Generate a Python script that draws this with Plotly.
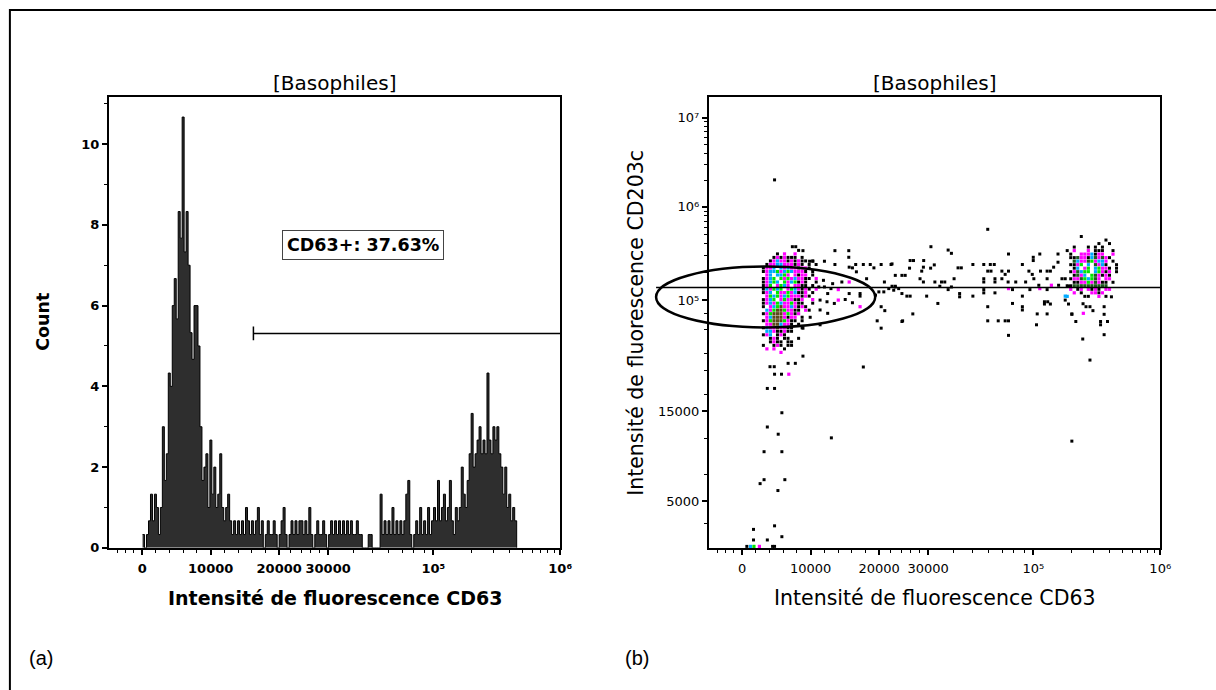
import math
import plotly.graph_objects as go

W, H = 1216, 690

# ------------------------------------------------------------------ data
# Histogram of CD63 (counts per display channel, channel bins of width 2)
HIST_FIRST_CHANNEL = 34
HIST_BIN_WIDTH = 2
HIST_COUNTS = [
    0.33, 0, 0.33, 0.67, 1.33, 0.67, 1.33, 1.0, 0.33, 1.0,
    3.0, 1.67, 2.33, 4.33, 4.0, 6.0, 6.67, 5.67, 8.33, 7.67,
    10.67, 7.33, 8.33, 7.0, 5.33, 4.67, 6.0, 6.0, 5.0, 3.0,
    1.67, 2.0, 2.33, 1.0, 2.67, 1.33, 2.0, 1.0, 1.33, 2.33,
    1.0, 0.67, 1.0, 1.33, 0.67, 0.33, 0.67, 0.33, 0.67, 0.33,
    0.67, 0.33, 1.0, 0.67, 0.33, 0.67, 0.33, 0.67, 1.0, 0.33,
    0.67, 0, 0.33, 0.67, 0.33, 0.33, 0.67, 0.33, 0, 0.33,
    0.67, 1.0, 0.33, 0, 0.33, 0.67, 0.33, 0.67, 0.33, 0.67,
    0.67, 0.33, 0.67, 0.33, 1.0, 0.33, 0, 0.33, 0.67, 0.33,
    0.33, 0.67, 0.33, 0, 0.33, 0.67, 0.33, 0.67, 0.33, 0.67,
    0.33, 0.67, 0.33, 0.67, 0.33, 0.67, 0.33, 0.33, 0.67, 0.33,
    0.33, 0, 0, 0, 0.33, 0.33, 0, 0, 0, 0,
    1.33, 0.33, 0.67, 0.33, 0.67, 0.33, 1.0, 0.33, 0.67, 0.33,
    0.67, 0.33, 0.67, 1.33, 1.67, 0.33, 0, 0.33, 0.67, 0.33,
    1.0, 0.33, 0.67, 0.33, 1.0, 0.33, 0.67, 1.0, 0.67, 1.67,
    0.67, 1.0, 1.33, 0.67, 1.0, 1.67, 0.67, 0.33, 1.0, 0.67,
    1.0, 2.0, 1.33, 1.0, 1.67, 2.33, 3.33, 2.0, 2.33, 2.67,
    3.0, 2.33, 2.67, 2.33, 4.33, 2.67, 2.33, 3.0, 2.67, 3.0,
    2.33, 2.0, 1.33, 2.0, 1.0, 1.33, 0.67, 1.0, 0.67,
]

# Dot plot events (CD63 channel, CD203c channel) - isolated black events
BLACK_EVENTS = [
    (66.3, 372.3), (84.3, 304.7), (87.7, 304.7), (95, 300.7), (127.3, 300.7),
    (141.3, 300.7), (141.3, 294), (116.7, 290), (101.7, 290), (105, 290),
    (127.3, 286.7), (148.3, 286.7), (156, 286.7), (163, 286.7), (174, 286.7),
    (184, 286.7), (108.3, 286.7), (145, 283.3), (166.7, 283.3), (149, 279.3),
    (159.3, 272.3), (115.7, 270.7), (134.3, 269), (125, 267.3), (177.3, 269),
    (181.7, 262.3), (176.7, 259), (111, 264), (116.7, 264), (123.3, 262.3),
    (120, 257.3), (112.3, 250.7), (119.3, 249), (137.7, 251.3), (145, 248),
    (126.7, 247.3), (141.7, 257.3), (152.7, 257.3), (152.7, 254.7), (174, 244),
    (177.7, 240), (170, 229.7), (174, 222.3), (120, 237.3), (112.3, 240.7),
    (112.3, 225.7), (102.3, 233.3), (95, 222.3), (156, 183), (123.7, 111.3),
    (141.7, 284), (188.3, 264), (186.7, 260.7), (171.7, 259), (168.3, 255.7),
    (195, 229),
    # lower streak of the first population
    (95, 194), (80, 186.7), (87.3, 186.7), (61.7, 183.3), (66, 183.3),
    (66.3, 175.7), (73.3, 175.7), (59, 161.3), (66.3, 161.3), (73.7, 136.7),
    (59, 122.3), (70, 115), (55.7, 97.3), (73.7, 97.3), (55.7, 69),
    (51.7, 65), (76.7, 69), (69.7, 58), (66.3, 22.3), (45, 18.7),
    (73.7, 11.3), (45, 8), (59, 8), (38.3, 1.5), (64.3, 1.5), (66.3, 1.5),
    # intermediate band
    (281.7, 322.3), (224.3, 304.7), (241.7, 301.3), (245, 298), (302.7, 297.3),
    (334.3, 297.3), (352.7, 297.3), (327.7, 294), (327.7, 290.7), (203.3, 290.7),
    (206.7, 290.7), (217, 290.7), (227.7, 286.3), (224, 283), (202.7, 283),
    (255, 283.3), (251.7, 283.3), (266.7, 286.7), (277.7, 286.7), (284.3, 286.7),
    (288.3, 286.7), (316.7, 286.7), (281.7, 280), (285, 280), (296, 280),
    (299.3, 276.7), (302.7, 280), (323.3, 280), (326.7, 276.7), (335, 280),
    (341.7, 280), (345, 280), (348.3, 284), (352.7, 289), (356.7, 272.3),
    (360, 272.3), (188.3, 275.7), (185, 287.3), (195, 275.7), (198.3, 275.7),
    (215, 280), (216.7, 284), (213.3, 272.3), (216.7, 269), (228.3, 269),
    (235, 269), (238.3, 269), (247.7, 272.3), (233.3, 264.7), (241.7, 261.3),
    (245, 264), (277.7, 272.3), (277.7, 269), (289, 272.3), (289, 269),
    (296, 272.3), (302.3, 269), (310, 269), (320, 269), (328.3, 272.3),
    (341.7, 272.3), (333.3, 265.7), (353.3, 265.7), (363.3, 264.7), (185, 264.7),
    (188.3, 264.7), (191.7, 262.3), (195, 257.3), (200, 254.7), (203.3, 254.7),
    (220, 254.7), (253.3, 257.3), (253.3, 254), (266.7, 254.7), (277.7, 261.3),
    (277.7, 258), (289, 258), (306.7, 261.3), (316.7, 254.7), (324.3, 261.3),
    (341.7, 261.3), (339, 249), (342.3, 249), (339, 246.7), (345, 246.7),
    (360, 250.7), (363.3, 246.7), (316.7, 244), (316.7, 240.7), (306.7, 247.3),
    (231.3, 247.3), (331.7, 236.7), (341.7, 236.7), (366.7, 236.7), (206, 236.7),
    (195.7, 229.7), (281.7, 244), (281.7, 229.7), (292.3, 229.7), (299.3, 229.7),
    (302.7, 229.7), (331, 225.7), (302.7, 215), (366.7, 108),
    # around the CD63+ population
    (406.7, 254), (399.3, 244), (399.3, 236.3), (395.7, 229), (395.7, 225.7),
    (402.7, 229), (370.7, 229), (399.3, 215.7), (377.7, 211.3), (385, 190),
    (366.7, 236.3), (378, 247), (381, 244), (385, 244), (388, 240),
]
MAGENTA_EVENTS = [
    (130.7, 261.3), (141.7, 269), (130.7, 250.7), (152.7, 244), (80.7, 175.7),
    (302.7, 262.3), (334.3, 262.3), (346, 265.7), (378.3, 237.3), (51, 1.5),
]
CYAN_EVENTS = [(360, 254.7), (42, 1.5)]
GREEN_EVENTS = [(45.5, 1.5)]

# Density-coloured cells of the two dense populations (one char = one cell)
# k black, m magenta, c cyan, g green, w white, o olive, d dark green
CLUSTER_NEG_ORIGIN = (55.0, 301.0)   # CD63- basophils (channel of first cell)
CLUSTER_NEG = [
    "..........k.....",
    "....k.m..m......",
    "...kmkmkkk.k....",
    "..kmcmmkmkmkk.k.",
    ".kmmccmmmkmk.k..",
    "kmmcwcmcmmkmmk..",
    "kmccgmcgcmmmk.k.",
    ".mcwccgmwmkmm.k.",
    "kmcgwgmgmcmmkk.m",
    "kmcgcwgmcgkmk..k",
    "kmgwmgcmwmmkk.k.",
    "kcmgcgwmgcmkmk.m",
    "kmcwgmmgmckkm.k.",
    ".mgcgmcgmmmkmk..",
    "kmcgwmgmmkkm..m.",
    "kmcmgcmmgmkk..k.",
    "kwmcgommcmkmk...",
    ".cmgoogmmkk.mk..",
    "kmgooomgmkm.....",
    ".mcooomkmm.k....",
    "kmgooogmkk.k....",
    ".mmoocmmk.k.....",
    "kcmmommkk..k....",
    ".ccmkkmkk.......",
    "kmc.kmk.........",
    "..kmk.kk..k.....",
    "..kmkk.kk.......",
    "k..kmk.kk.......",
    ".m.m..k.........",
    ".....m..........",
]
CLUSTER_POS_ORIGIN = (362.0, 315.0)  # CD63+ basophils
CLUSTER_POS = [
    "....k..........",
    "...........k...",
    ".........k..k..",
    "..k...k.k.k....",
    "k.m...m.kkk..k.",
    ".k..mmmckmm..m.",
    ".kkdmmkcdmdmk..",
    "..dcmmdgmccm.k.",
    ".kkmgwcwdmck..k",
    "..kcwmgwcgmmk.k",
    ".kmdcggwcgmkm.k",
    "..kdmcwgdmkmk..",
    ".kmmdgcgdm.mm..",
    "..kkmmgmdmkk.k.",
    "kkdddddddddd...",
    ".m.km.mkmk.mm..",
    "..m.k..mmkm....",
    "c....kk..m.k...",
]
CELL = 3.56

# ------------------------------------------------------------------ scales
# biexponential display: intensity -> display channel (anchors of the scale)
X_SCALE_VALUES = [0, 10000, 20000, 30000, 1e5, 1e6]
X_SCALE_CH = [33.6, 102.8, 172.0, 221.5, 327.8, 456.0]
X_TICK_TEXT = ["0", "10000", "20000", "30000", "10\u2075", "10\u2076"]
X_MINOR_VALUES = [-3600, -2400, -1200, 2000, 4000, 6000, 8000, 12000, 14000,
                  16000, 18000, 22000, 24000, 26000, 28000, 40000, 50000,
                  60000, 70000, 80000, 90000, 2e5, 3e5, 4e5, 5e5, 6e5, 7e5,
                  8e5, 9e5]
Y_SCALE_VALUES = [5000, 15000, 1e5, 1e6, 1e7]
Y_SCALE_CH = [47.3, 138.3, 250.7, 345.0, 435.0]
Y_TICK_TEXT = ["5000", "15000", "10\u2075", "10\u2076", "10\u2077"]
Y_MINOR_VALUES = [2500, 8000, 12000, 20000, 30000, 40000, 60000, 80000,
                  2e5, 3e5, 4e5, 5e5, 6e5, 7e5, 8e5, 9e5,
                  2e6, 3e6, 4e6, 5e6, 6e6, 7e6, 8e6, 9e6]


def biex(v, vals, chs, n_lin):
    """Piecewise display transform: linear up to vals[n_lin], log above."""
    if v <= vals[n_lin]:
        i = 0
        while i < n_lin - 1 and v > vals[i + 1]:
            i += 1
        return chs[i] + (v - vals[i]) / (vals[i + 1] - vals[i]) * (chs[i + 1] - chs[i])
    i = n_lin
    while i < len(vals) - 2 and v > vals[i + 1]:
        i += 1
    a, b = math.log10(vals[i]), math.log10(vals[i + 1])
    return chs[i] + (math.log10(v) - a) / (b - a) * (chs[i + 1] - chs[i])


x_minor = [biex(v, X_SCALE_VALUES, X_SCALE_CH, 2) for v in X_MINOR_VALUES]
y_minor = [biex(v, Y_SCALE_VALUES, Y_SCALE_CH, 1) for v in Y_MINOR_VALUES]

# ------------------------------------------------------------------ layout geometry
XD1 = [110 / W, 566 / W]
XD2 = [716 / W, 1172 / W]
YD = [1 - 554.3 / H, 1 - 98 / H]
XR = [0, 456.2]
YR1 = [0, 11.17]
YR2 = [0, 456.3]


def pxx(x):
    return x / W


def pxy(y):
    return 1 - y / H


def x2_paper(ch):
    return XD2[0] + (ch - XR[0]) / (XR[1] - XR[0]) * (XD2[1] - XD2[0])


def y2_paper(ch):
    return YD[0] + (ch - YR2[0]) / (YR2[1] - YR2[0]) * (YD[1] - YD[0])


FONT = "DejaVu Sans"

fig = go.Figure()

# ---- histogram (step outline, dark fill)
hx = [HIST_FIRST_CHANNEL + HIST_BIN_WIDTH * i for i in range(len(HIST_COUNTS))]
hx.append(hx[-1] + HIST_BIN_WIDTH)
hy = HIST_COUNTS + [0]
fig.add_trace(go.Scatter(
    x=hx, y=hy, mode="lines", line=dict(color="black", width=1, shape="hv"),
    fill="tozeroy", fillcolor="#2e2e2e", xaxis="x", yaxis="y",
    showlegend=False, hoverinfo="skip"))

# ---- dot plot
COLORS = {"k": "#000000", "m": "#ff00ff", "c": "#00aaff", "g": "#00e600",
          "w": "#ffffff", "o": "#5c4a1c", "d": "#1e5a1e"}
pts = {k: ([], []) for k in COLORS}
for (x, y) in BLACK_EVENTS:
    pts["k"][0].append(x); pts["k"][1].append(y)
for key, lst in (("m", MAGENTA_EVENTS), ("c", CYAN_EVENTS), ("g", GREEN_EVENTS)):
    for (x, y) in lst:
        pts[key][0].append(x); pts[key][1].append(y)
for origin, rows in ((CLUSTER_NEG_ORIGIN, CLUSTER_NEG), (CLUSTER_POS_ORIGIN, CLUSTER_POS)):
    for r, row in enumerate(rows):
        for c, code in enumerate(row):
            if code != ".":
                pts[code][0].append(origin[0] + c * CELL)
                pts[code][1].append(origin[1] - r * CELL)

for key in ["k", "o", "d", "m", "c", "g", "w"]:
    xs, ys = pts[key]
    if not xs:
        continue
    fig.add_trace(go.Scatter(
        x=xs, y=ys, mode="markers", xaxis="x2", yaxis="y2",
        marker=dict(symbol="square", size=3 if key == "k" else 3.2,
                    color=COLORS[key], line=dict(width=0)),
        cliponaxis=False, showlegend=False, hoverinfo="skip"))

# ---- axes
common = dict(showline=True, linecolor="black", linewidth=2, mirror=True,
              ticks="outside", tickcolor="black", ticklen=5, tickwidth=1.5,
              showgrid=False, zeroline=False, fixedrange=True)
bold_tick = dict(family=FONT, size=13, color="black", weight="bold")
reg_tick = dict(family=FONT, size=13, color="black")

fig.update_layout(
    width=W, height=H, margin=dict(l=0, r=0, t=0, b=0),
    paper_bgcolor="white", plot_bgcolor="white", showlegend=False,
    xaxis=dict(domain=XD1, range=XR, anchor="y", tickmode="array",
               tickvals=X_SCALE_CH, ticktext=X_TICK_TEXT, tickfont=bold_tick,
               ticklabelstandoff=3,
               minor=dict(tickvals=x_minor, ticklen=3, tickcolor="black", ticks="outside", tickwidth=1),
               **common),
    yaxis=dict(domain=YD, range=YR1, anchor="x", tickmode="array",
               tickvals=[0, 2, 4, 6, 8, 10], ticktext=["0", "2", "4", "6", "8", "10"],
               tickfont=bold_tick,
               minor=dict(tickvals=[1, 3, 5, 7, 9, 11], ticklen=3, tickcolor="black", ticks="outside", tickwidth=1),
               **common),
    xaxis2=dict(domain=XD2, range=XR, anchor="y2", tickmode="array",
                tickvals=X_SCALE_CH, ticktext=X_TICK_TEXT, tickfont=reg_tick,
                ticklabelstandoff=3,
                minor=dict(tickvals=x_minor, ticklen=3, tickcolor="black", ticks="outside", tickwidth=1),
                **common),
    yaxis2=dict(domain=YD, range=YR2, anchor="x2", tickmode="array",
                tickvals=Y_SCALE_CH, ticktext=Y_TICK_TEXT, tickfont=reg_tick,
                minor=dict(tickvals=y_minor, ticklen=3, tickcolor="black", ticks="outside", tickwidth=1),
                **common),
)

# ---- gates
GATE_HIST = dict(x_start=146, level=5.31, tick_half=0.17)
GATE_ELLIPSE = dict(cx=57.3, cy=253.8, rx=110.7, ry=30.8)
GATE_QUAD_Y = 263.5

shapes = [
    dict(type="line", xref="x", yref="y", x0=GATE_HIST["x_start"], x1=XR[1],
         y0=GATE_HIST["level"], y1=GATE_HIST["level"], line=dict(color="black", width=1.5)),
    dict(type="line", xref="x", yref="y", x0=GATE_HIST["x_start"], x1=GATE_HIST["x_start"],
         y0=GATE_HIST["level"] - GATE_HIST["tick_half"], y1=GATE_HIST["level"] + GATE_HIST["tick_half"],
         line=dict(color="black", width=1.5)),
    dict(type="line", xref="paper", yref="paper",
         x0=x2_paper(GATE_ELLIPSE["cx"] - GATE_ELLIPSE["rx"]), x1=x2_paper(XR[1]),
         y0=y2_paper(GATE_QUAD_Y), y1=y2_paper(GATE_QUAD_Y),
         line=dict(color="black", width=1.5), layer="above"),
    dict(type="circle", xref="paper", yref="paper",
         x0=x2_paper(GATE_ELLIPSE["cx"] - GATE_ELLIPSE["rx"]),
         x1=x2_paper(GATE_ELLIPSE["cx"] + GATE_ELLIPSE["rx"]),
         y0=y2_paper(GATE_ELLIPSE["cy"] - GATE_ELLIPSE["ry"]),
         y1=y2_paper(GATE_ELLIPSE["cy"] + GATE_ELLIPSE["ry"]),
         line=dict(color="black", width=2.5), layer="above"),
    # outer frame of the figure
    dict(type="rect", xref="paper", yref="paper", x0=pxx(10), x1=1.05,
         y0=-0.05, y1=pxy(10), line=dict(color="black", width=2)),
]
fig.update_layout(shapes=shapes)

# ---- texts
def txt(x, y, s, size, weight="normal", angle=0, family=FONT, xanchor="center"):
    return dict(x=pxx(x), y=pxy(y), xref="paper", yref="paper", text=s,
                showarrow=False, textangle=angle, xanchor=xanchor, yanchor="middle",
                font=dict(family=family, size=size, color="black", weight=weight))

annotations = [
    txt(338, 84, "[Basophiles]", 20),
    txt(944, 84, "[Basophiles]", 20),
    txt(338, 605, "Intensité de fluorescence CD63", 19, "bold"),
    txt(944, 605, "Intensité de fluorescence CD63", 20.5),
    txt(44, 326, "Count", 17.5, "bold", angle=-90),
    txt(643, 327, "Intensité de fluorescence CD203c", 20.5, angle=-90),
    txt(27, 666, "(a)", 20, family="Liberation Sans", xanchor="left"),
    txt(629, 666, "(b)", 20, family="Liberation Sans", xanchor="left"),
    dict(x=257, y=7.49, xref="x", yref="y", text="CD63+: 37.63%", showarrow=False,
         font=dict(family=FONT, size=17.5, color="black", weight="bold"),
         bordercolor="#444444", borderwidth=1, borderpad=4, bgcolor="white"),
]
fig.update_layout(annotations=annotations)

fig.write_html("out.html")
